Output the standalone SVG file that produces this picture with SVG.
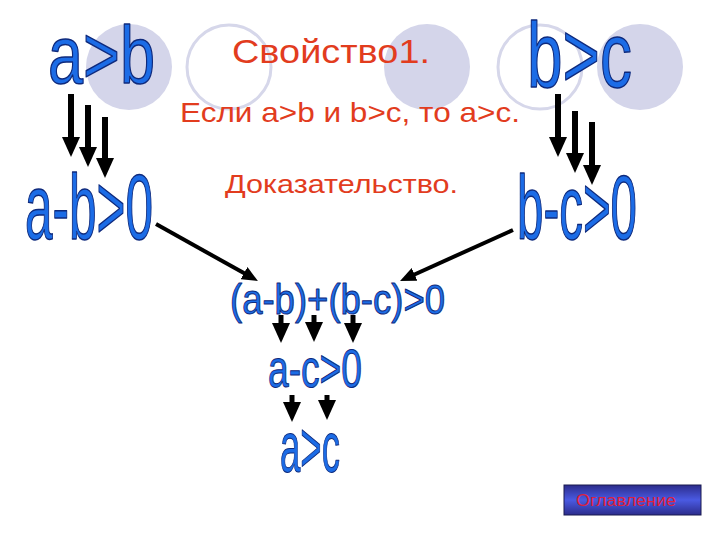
<svg xmlns="http://www.w3.org/2000/svg" width="720" height="540" viewBox="0 0 720 540">
<style>
.bg{fill:#ffffff}
.disc{fill:#d4d5ea}
.ring{fill:none;stroke:#d6d7ea;stroke-width:3}
.red{font-family:"Liberation Sans",Arial,sans-serif;fill:#e23c1e}
.blue{font-family:"Liberation Sans",Arial,sans-serif;fill:#1c6ce6;stroke:#0f2a7c;stroke-width:1.5;stroke-linejoin:round}
.blue.sm{stroke-width:1}
.big{stroke:#000;stroke-width:6;fill:none;marker-end:url(#mbig)}
.mid{stroke:#000;stroke-width:5;fill:none;marker-end:url(#mbig)}
.diag{stroke:#000;stroke-width:4;fill:none;marker-end:url(#mdiag)}
.btn{fill:url(#gbtn);stroke:#1a1a50;stroke-width:1}
.btntxt{font-family:"Liberation Sans",Arial,sans-serif;font-size:16px;fill:#e0203a}
</style>
<defs>
<marker id="mbig" markerUnits="userSpaceOnUse" viewBox="0 0 20 18" markerWidth="20" markerHeight="18" refX="10" refY="9" orient="auto">
<path d="M0,0 L20,9 L0,18 z" fill="#000"/>
</marker>
<marker id="mdiag" markerUnits="userSpaceOnUse" viewBox="0 0 16 14" markerWidth="16" markerHeight="14" refX="8" refY="7" orient="auto">
<path d="M0,0 L16,7 L0,14 z" fill="#000"/>
</marker>
<linearGradient id="gbtn" x1="0" y1="0" x2="0" y2="1">
<stop offset="0" stop-color="#2c2c8c"/>
<stop offset="0.5" stop-color="#4a5ae2"/>
<stop offset="1" stop-color="#2c2c8c"/>
</linearGradient>
</defs>
<rect class="bg" x="0" y="0" width="720" height="540"/>
<g id="decor">
<circle class="disc" cx="129" cy="67" r="43"/>
<circle class="ring" cx="229" cy="67" r="42"/>
<circle class="disc" cx="427" cy="67" r="43"/>
<circle class="ring" cx="540" cy="67" r="42"/>
<circle class="disc" cx="640" cy="67" r="43"/>
</g>
<g id="title">
<text class="red" x="232" y="63" font-size="33" textLength="198" lengthAdjust="spacingAndGlyphs">Свойство1.</text>
<text class="red" x="180" y="122" font-size="28" textLength="340" lengthAdjust="spacingAndGlyphs">Если a&gt;b и b&gt;c, то a&gt;c.</text>
<text class="red" x="225" y="193" font-size="26" textLength="233" lengthAdjust="spacingAndGlyphs">Доказательство.</text>
</g>
<g id="connectors">
<line class="big" x1="71" y1="94" x2="71" y2="147"/>
<line class="big" x1="88" y1="105" x2="88" y2="157"/>
<line class="big" x1="105" y1="117" x2="105" y2="168"/>
<line class="big" x1="558" y1="94" x2="558" y2="147"/>
<line class="big" x1="575" y1="111" x2="575" y2="163"/>
<line class="big" x1="592" y1="122" x2="592" y2="175"/>
<line class="diag" x1="156" y1="224" x2="251" y2="277.1"/>
<line class="diag" x1="513" y1="230" x2="407.3" y2="277.7"/>
<line class="mid" x1="281" y1="315" x2="281" y2="333"/>
<line class="mid" x1="314" y1="315" x2="314" y2="332"/>
<line class="mid" x1="353" y1="315" x2="353" y2="333"/>
<line class="mid" x1="292" y1="395" x2="292" y2="412"/>
<line class="mid" x1="327" y1="395" x2="327" y2="410"/>
</g>
<g id="n-agtb"><text class="blue" x="48" y="83" font-size="82" textLength="107" lengthAdjust="spacingAndGlyphs">a&gt;b</text></g>
<g id="n-amb"><text class="blue" x="25" y="239" font-size="92" textLength="128" lengthAdjust="spacingAndGlyphs">a-b&gt;0</text></g>
<g id="n-bgtc"><text class="blue" x="527" y="87" font-size="92" textLength="105" lengthAdjust="spacingAndGlyphs">b&gt;c</text></g>
<g id="n-bmc"><text class="blue" x="517" y="239" font-size="90" textLength="120" lengthAdjust="spacingAndGlyphs">b-c&gt;0</text></g>
<g id="n-sum"><text class="blue sm" x="230" y="314" font-size="42" textLength="215" lengthAdjust="spacingAndGlyphs">(a-b)+(b-c)&gt;0</text></g>
<g id="n-amc"><text class="blue sm" x="268" y="387" font-size="54" textLength="94" lengthAdjust="spacingAndGlyphs">a-c&gt;0</text></g>
<g id="n-agtc"><text class="blue sm" x="280" y="472" font-size="72" textLength="60" lengthAdjust="spacingAndGlyphs">a&gt;c</text></g>
<g id="btn-toc">
<rect class="btn" x="564" y="485" width="137" height="30"/>
<text class="btntxt" x="576" y="506" textLength="100" lengthAdjust="spacingAndGlyphs">Оглавление</text>
</g>
</svg>
